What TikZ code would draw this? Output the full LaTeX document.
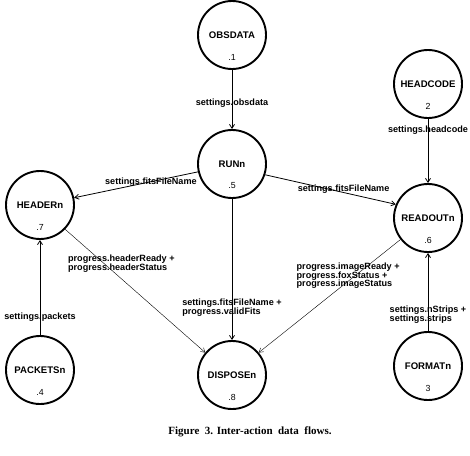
\documentclass[tikz,border=0pt]{standalone}
\usepackage{fontspec}
\setmainfont{Liberation Serif}
\setsansfont{Liberation Sans}
\usetikzlibrary{arrows.meta}

\begin{document}
\begin{tikzpicture}[x=1pt,y=-1pt,
  proc/.style={circle,draw,line width=1.9pt,minimum size=68pt,inner sep=0pt,
    font=\sffamily\bfseries\fontsize{9.6}{10}\selectfont},
  num/.style={font=\sffamily\fontsize{8.8}{9}\selectfont,yshift=-22pt},
  flow/.style={draw,line width=0.8pt,-{Straight Barb[length=4pt,width=5pt]}},
  lbl/.style={font=\sffamily\bfseries\fontsize{9.1}{8.6}\selectfont,align=left,inner sep=0pt}]
  \useasboundingbox (0,0) rectangle (470,455);
  % processes
  \node[proc,label={[num]center:.1}] (obs) at (232,35) {OBSDATA};
  \node[proc,label={[num]center:2}] (headcode) at (428,84) {HEADCODE};
  \node[proc,label={[num]center:.5}] (run) at (232,164) {RUNn};
  \node[proc,label={[num]center:.7}] (header) at (40,205) {HEADERn};
  \node[proc,label={[num]center:.6}] (readout) at (428,218) {READOUTn};
  \node[proc,label={[num]center:.4}] (packets) at (40,370) {PACKETSn};
  \node[proc,label={[num]center:.8}] (dispose) at (232,375) {DISPOSEn};
  \node[proc,label={[num]center:3}] (format) at (428,366) {FORMATn};
  % settings
  \draw[flow] (obs) -- node[lbl,pos=0.56] {settings.obsdata} (run);
  \draw[flow] (headcode) -- node[lbl,pos=0.18] {settings.headcode} (readout);
  \draw[flow] (run.-167) -- node[lbl,pos=0.38] {settings.fitsFileName} (header.12);
  \draw[flow] (run.-18) -- node[lbl,pos=0.6,yshift=3pt] {settings.fitsFileName} (readout.157);
  \draw[flow] (packets) -- node[lbl,pos=0.19] {settings.packets} (header);
  \draw[flow] (format) -- node[lbl,pos=0.21] {settings.nStrips +\\settings.strips} (readout);
  % into dispose
  \draw[flow] (run) -- node[lbl,pos=0.77] {settings.fitsFileName +\\progress.validFits} (dispose);
  \draw[flow,line width=0.4pt] (header.-44) -- node[lbl,pos=0.28,xshift=17pt] {progress.headerReady +\\progress.headerStatus} (dispose.140);
  \draw[flow,line width=0.4pt] (readout.-142) -- node[lbl,pos=0.32,xshift=-7pt] {progress.imageReady +\\progress.foxStatus +\\progress.imageStatus} (dispose.40);
  % caption
  \node[font=\rmfamily\bfseries\fontsize{11}{12}\selectfont] (caption) at (250,432) {Figure\ \ 3. Inter-action\ \ data\ \ flows.};
\end{tikzpicture}
\end{document}
